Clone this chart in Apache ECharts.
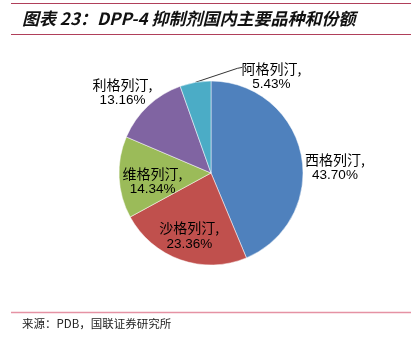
<!DOCTYPE html>
<html>
<head>
<meta charset="utf-8">
<script src="https://cdn.jsdelivr.net/npm/echarts@6/dist/echarts.min.js"></script>
<style>
  html, body { margin: 0; padding: 0; background: #fff; }
  #chart { width: 414px; height: 342px; }
</style>
</head>
<body>
<div id="chart"></div>
<script>
// Drug names and their domestic market shares (%), clockwise from 12 o'clock
const drugNames = ['西格列汀', '沙格列汀', '维格列汀', '利格列汀', '阿格列汀'];
const shareValues = [43.70, 23.36, 14.34, 13.16, 5.43];
const sliceColors = ['#4F81BD', '#C0504D', '#9BBB59', '#8064A2', '#4BACC6'];

const titleText = '图表 23：DPP-4 抑制剂国内主要品种和份额';
const sourceText = '来源：PDB，国联证券研究所';

const CJK = '"Noto Sans CJK SC", "Noto Sans", sans-serif';
const LATIN = '"Liberation Sans", Arial, sans-serif';

const center = [211, 173];
const radius = 92;
const total = shareValues.reduce((a, b) => a + b, 0);

// label placement: radius factor and angle offset (deg) relative to slice mid-angle
const labelPlace = [
  { f: 1.35, da: 8 },
  { f: 0.71, da: 0 },
  { f: 0.64, da: -4 },
  { f: 1.31, da: -4 },
  { f: null }
];

function midAngle(i) {
  let before = 0;
  for (let k = 0; k < i; k++) before += shareValues[k];
  return (before + shareValues[i] / 2) / total * 360;
}
function polar(angleDeg, r) {
  const a = angleDeg * Math.PI / 180;
  return [center[0] + r * Math.sin(a), center[1] - r * Math.cos(a)];
}

const chart = echarts.init(document.getElementById('chart'), null, { renderer: 'canvas' });

chart.setOption({
  backgroundColor: '#fff',
  animation: false,
  graphic: [
    { type: 'line', shape: { x1: 11, y1: 3.5, x2: 411, y2: 3.5 }, style: { stroke: '#B03F5A', lineWidth: 1.2 } },
    { type: 'line', shape: { x1: 11, y1: 34.5, x2: 411, y2: 34.5 }, style: { stroke: '#B03F5A', lineWidth: 1.2 } },
    {
      type: 'text', left: 22, top: 10,
      style: { text: titleText, font: 'italic bold 17px ' + CJK, fill: '#111' }
    },
    { type: 'line', shape: { x1: 11, y1: 312.5, x2: 411, y2: 312.5 }, style: { stroke: '#E592A4', lineWidth: 1.5 } },
    {
      type: 'text', left: 22, top: 318,
      style: { text: sourceText, font: '11.5px ' + CJK, fill: '#222' }
    }
  ],
  series: [{
    type: 'pie',
    center: center,
    radius: radius,
    startAngle: 90,
    clockwise: true,
    avoidLabelOverlap: false,
    itemStyle: { borderColor: '#fff', borderWidth: 0.5 },
    label: {
      show: true,
      position: 'outside',
      color: '#000',
      lineHeight: 16,
      formatter: p => '{n|' + p.name + ',}\n{v|' + p.value.toFixed(2) + '%}',
      rich: {
        n: { fontFamily: CJK, fontSize: 14, color: '#000', lineHeight: 16 },
        v: { fontFamily: LATIN, fontSize: 13.5, color: '#000', lineHeight: 16 }
      }
    },
    labelLine: { show: true, length: 10, length2: 5, lineStyle: { color: '#000', width: 0.8 } },
    labelLayout: function (params) {
      const i = params.dataIndex;
      const m = midAngle(i);
      const pl = labelPlace[i];
      if (pl.f === null) {
        // small slice: label sits up and to the right with a leader line
        const start = polar(m, radius);
        const elbow = [start[0] + 42, start[1] - 14];
        const end = [elbow[0] + 5, elbow[1] - 1];
        return {
          x: end[0] + 29, y: start[1] - 6,
          align: 'center', verticalAlign: 'middle',
          labelLinePoints: [start, elbow, end]
        };
      }
      const pt = polar(m + pl.da, radius * pl.f);
      return { x: pt[0], y: pt[1] + 1.5, align: 'center', verticalAlign: 'middle' };
    },
    data: drugNames.map((n, i) => ({
      name: n,
      value: shareValues[i],
      itemStyle: { color: sliceColors[i] },
      labelLine: { show: i === 4 }
    }))
  }]
});
</script>
</body>
</html>
